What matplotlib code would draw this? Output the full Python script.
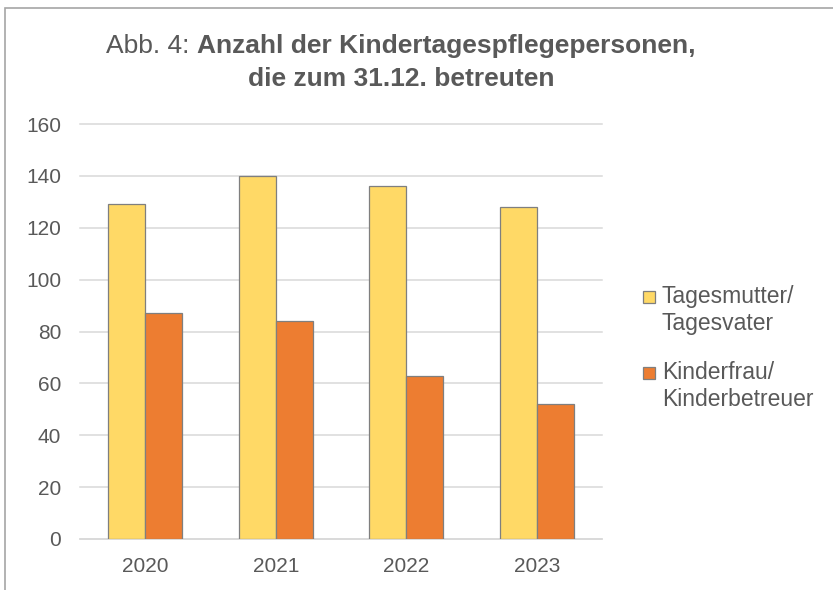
import matplotlib
matplotlib.use('Agg')
import matplotlib.pyplot as plt
from matplotlib.patches import Rectangle
import numpy as np

plt.rcParams['font.family'] = ['Liberation Sans', 'DejaVu Sans']

YEARS = ['2020', '2021', '2022', '2023']
TAGESMUTTER = [129, 140, 136, 128]
KINDERFRAU = [87, 84, 63, 52]
SERIES_LABELS = ['Tagesmutter/\nTagesvater', 'Kinderfrau/\nKinderbetreuer']
Y_TICKS = [0, 20, 40, 60, 80, 100, 120, 140, 160]

YELLOW = '#FFD966'
ORANGE = '#ED7D31'
EDGE = '#7F7F7F'
TEXT = '#595959'
GRID = '#D9D9D9'

W, H = 833, 590
fig = plt.figure(figsize=(W / 100, H / 100), dpi=100)

# axes placed in pixel terms
ax = fig.add_axes([80 / W, (H - 539) / H, (602 - 80) / W, (539 - 124) / H])

x = np.arange(len(YEARS))
bw = 0.284
ax.bar(x - bw / 2, TAGESMUTTER, bw, color=YELLOW, edgecolor=EDGE, linewidth=0.9, zorder=3)
ax.bar(x + bw / 2, KINDERFRAU, bw, color=ORANGE, edgecolor=EDGE, linewidth=0.9, zorder=3)

ax.set_xlim(-0.5, len(YEARS) - 0.5)
ax.set_ylim(0, 160)
ax.set_yticks(Y_TICKS)
ax.set_xticks(x)
ax.set_xticklabels(YEARS)
ax.tick_params(axis='both', length=0, colors=TEXT, labelsize=15)
ax.tick_params(axis='y', pad=13.5)
ax.tick_params(axis='x', pad=13)

for s in ['top', 'right', 'left']:
    ax.spines[s].set_visible(False)
ax.spines['bottom'].set_color(GRID)
ax.spines['bottom'].set_linewidth(1.1)
ax.grid(axis='y', color=GRID, linewidth=1.1, zorder=0)
ax.set_axisbelow(True)
for gl in ax.get_ygridlines():
    gl.set_clip_on(False)

# outer chart frame
fig.add_artist(Rectangle((5 / W, -0.1), 1.2, (H - 8) / H + 0.1, transform=fig.transFigure,
                         fill=False, edgecolor='#A6A6A6', linewidth=1.2))

# title: line 1 mixed normal/bold, both lines centred on the same x
TITLE_X = 401
TITLE_FS = 19
t1 = fig.text(0, (H - 53) / H, 'Abb. 4: ', fontsize=TITLE_FS, color=TEXT,
              ha='left', va='baseline')
t2 = fig.text(0, (H - 53) / H, 'Anzahl der Kindertagespflegepersonen,', fontsize=TITLE_FS,
              fontweight='bold', color=TEXT, ha='left', va='baseline')
fig.canvas.draw()
w1 = t1.get_window_extent().width
w2 = t2.get_window_extent().width
x0 = TITLE_X - (w1 + w2) / 2
t1.set_x(x0 / W)
t2.set_x((x0 + w1) / W)
fig.text(TITLE_X / W, (H - 86) / H, 'die zum 31.12. betreuten', fontsize=TITLE_FS,
         fontweight='bold', color=TEXT, ha='center', va='baseline')

# legend, square aligned with first text line
for i, (lab, col) in enumerate(zip(SERIES_LABELS, [YELLOW, ORANGE])):
    top = 291 + i * 76
    fig.add_artist(Rectangle((643 / W, (H - top - 12) / H), 12 / W, 12 / H,
                             transform=fig.transFigure, facecolor=col,
                             edgecolor=EDGE, linewidth=0.9))
    fig.text(662 / W, (H - (top - 6)) / H, lab, fontsize=16.5, color=TEXT,
             ha='left', va='top', linespacing=1.22)

fig.savefig('out.png', dpi=100)
